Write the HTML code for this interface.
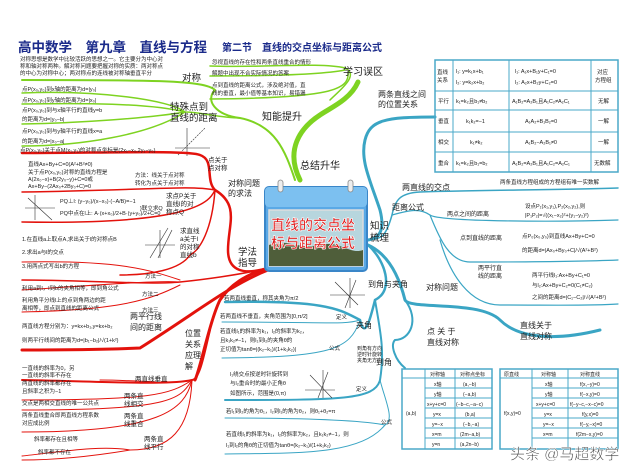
<!DOCTYPE html>
<html><head><meta charset="utf-8"><style>
html,body{margin:0;padding:0;background:#fff}
svg{display:block}
text{font-family:"Liberation Sans","Noto Sans CJK SC",sans-serif;fill:#222}
.s{font-size:5.5px}
.m{font-size:8px}
.n{font-size:9.5px;fill:#222}
.t{font-size:6px}
.r{fill:none;stroke:#e3120c;stroke-linecap:round}
.g{fill:none;stroke:#7ed321;stroke-linecap:round}
.b{fill:none;stroke:#3aa5c4;stroke-linecap:round}
.tb{fill:none;stroke:#4aa8c8;stroke-width:1}
</style></head><body>
<svg width="640" height="476" viewBox="0 0 640 476" xmlns="http://www.w3.org/2000/svg">
<rect width="640" height="476" fill="#fff"/>
<!-- title -->
<text x="18" y="52" style="font-size:13.5px;font-weight:bold;fill:#1a2a8a">高中数学　第九章　直线与方程</text>
<text x="222" y="51" style="font-size:10px;font-weight:bold;fill:#1a2a8a">第二节　直线的交点坐标与距离公式</text>

<!-- GREEN -->
<g class="g">
<path d="M300 180 C285 150 300 128 320 115 C330 108 350 100 358 82" stroke-width="5"/>
<path d="M295 180 C285 150 275 125 240 118 C215 115 205 100 215 90 C205 80 150 80 22 80" stroke-width="2"/>
<path d="M240 118 C220 118 200 112 185 112 C170 100 100 90 22 93" stroke-width="1.5"/>
<path d="M185 112 C150 103 80 103 22 104" stroke-width="1.5"/>
<path d="M185 112 C150 118 80 123 22 124" stroke-width="1.5"/>
<path d="M185 112 C150 135 80 146 22 146" stroke-width="1.5"/>
<path d="M330 100 C340 90 360 75 345 68 C320 62 260 68 210 66" stroke-width="1.5"/>
<path d="M345 70 C320 75 260 76 210 76" stroke-width="1.5"/>
<path d="M348 72 C350 90 330 98 210 99" stroke-width="1.5"/>
</g>
<text x="182" y="81" class="n">对称</text>
<text x="170" y="110" class="n">特殊点到</text>
<text x="170" y="121" class="n">直线的距离</text>
<text x="262" y="120" class="n" style="font-size:10px">知能提升</text>
<text x="343" y="75" class="n" style="font-size:10px">学习误区</text>
<text x="300" y="169" class="n" style="font-size:10px">总结升华</text>
<text x="20" y="61" class="s">对称思想是数学中比较活跃的思想之一。它主要分为中心对</text>
<text x="20" y="68" class="s">称和轴对称两种。解对称问题要把握对称的实质：两对称点</text>
<text x="20" y="75" class="s">的中心为对称中心；两对称点的连线被对称轴垂直平分</text>
<text x="22" y="91" class="s">点P(x₀,y₀)到x轴的距离为d=|y₀|</text>
<text x="22" y="102" class="s">点P(x₀,y₀)到y轴的距离为d=|x₀|</text>
<text x="22" y="112" class="s">点P(x₀,y₀)到与x轴平行的直线y=b</text>
<text x="22" y="121" class="s">的距离为d=|y₀−b|</text>
<text x="22" y="133" class="s">点P(x₀,y₀)到与y轴平行的直线x=a</text>
<text x="22" y="143" class="s">的距离为d=|x₀−a|</text>
<text x="212" y="64" class="s">忽视直线的存在性和两条直线重合的情形</text>
<text x="212" y="75" class="s">解题中出现不合实际情况的答案</text>
<text x="212" y="87" class="s">点到直线的距离公式，涉及绝对值，直</text>
<text x="212" y="95" class="s">线的垂直，最小值等基本知识，易错漏</text>
<g stroke="#333" stroke-width="0.6"><line x1="175" y1="148" x2="210" y2="148"/><line x1="187" y1="128" x2="187" y2="156"/><line x1="178" y1="155" x2="205" y2="128" stroke-dasharray="2 1"/></g>

<!-- RED -->
<g class="r">
<path d="M268 268 C245 275 230 285 220 300 C210 320 200 370 195 380" stroke-width="3"/>
<path d="M268 268 C245 275 228 272 228 250 C228 225 240 205 215 190 C205 180 215 160 200 155 C190 150 100 153 22 153" stroke-width="2.5"/>
<path d="M215 190 C190 185 150 190 22 192" stroke-width="1.5"/>
<path d="M215 190 C210 200 200 225 22 222" stroke-width="1.5"/>
<path d="M215 190 C212 230 200 250 190 255 C180 270 150 275 120 275" stroke-width="1.5"/>
<path d="M268 268 C240 275 200 280 180 282 C150 285 80 280 22 280" stroke-width="1.5"/>
<path d="M180 280 C150 270 120 260 22 262" stroke-width="1"/>
<path d="M180 282 C150 280 60 288 22 290" stroke-width="1"/>
<path d="M180 285 C150 300 120 310 22 312" stroke-width="1"/>
<path d="M268 270 C230 285 200 310 140 348 C100 350 50 350 22 350" stroke-width="3"/>
<path d="M210 330 C205 350 200 380 192 380 C170 385 120 382 22 380" stroke-width="2"/>
<path d="M192 380 C175 385 140 380 100 380" stroke-width="1"/>
<path d="M192 380 C170 395 150 400 22 400" stroke-width="1"/>
<path d="M192 380 C180 400 170 410 22 410" stroke-width="1"/>
<path d="M192 380 C185 410 160 432 22 432" stroke-width="1"/>
<path d="M192 380 C190 430 170 450 130 450 C100 445 60 452 22 456" stroke-width="1"/>
<path d="M130 450 C100 455 60 460 22 460" stroke-width="1"/>
</g>
<text x="20" y="152" class="s">点P(x₀,y₀)关于点M(x₁,y₁)的对称点坐标是(2x₁−x₀,2y₁−y₀)</text>
<text x="28" y="166" class="s">直线Ax+By+C=0(A²+B²≠0)</text>
<text x="28" y="174" class="s">关于点P(x₀,y₀)对称的直线方程是</text>
<text x="28" y="181" class="s">A(2x₀−x)+B(2y₀−y)+C=0或</text>
<text x="28" y="188" class="s">Ax+By−(2Ax₀+2By₀+C)=0</text>
<text x="135" y="177" class="s">方法：线关于点对称</text>
<text x="135" y="185" class="s">转化为点关于点对称</text>
<text x="208" y="162" class="s" style="font-size:6.5px">点关于</text>
<text x="208" y="170" class="s" style="font-size:6.5px">点对称</text>
<text x="228" y="186" class="m">对称问题</text>
<text x="228" y="196" class="m">的求法</text>
<text x="60" y="203" class="s">PQ⊥l:  (y−y₀)/(x−x₀)·(−A/B)=−1</text>
<text x="60" y="215" class="s">PQ中点在l上: A·(x+x₀)/2+B·(y+y₀)/2+C=0</text>
<text x="140" y="210" class="s">}联立求Q</text>
<text x="166" y="198" class="s" style="font-size:6.5px">求点P关于</text>
<text x="166" y="206" class="s" style="font-size:6.5px">直线l的对</text>
<text x="166" y="214" class="s" style="font-size:6.5px">称点Q</text>
<text x="180" y="233" class="s" style="font-size:6.5px">求直线</text>
<text x="180" y="241" class="s" style="font-size:6.5px">a关于l</text>
<text x="180" y="249" class="s" style="font-size:6.5px">的对称</text>
<text x="180" y="257" class="s" style="font-size:6.5px">直线b</text>
<g stroke="#333" stroke-width="0.6"><line x1="25" y1="208" x2="55" y2="208"/><line x1="35" y1="195" x2="35" y2="220"/><line x1="28" y1="198" x2="52" y2="220"/><line x1="145" y1="245" x2="175" y2="245"/><line x1="160" y1="230" x2="160" y2="258"/><line x1="150" y1="258" x2="168" y2="228"/><line x1="158" y1="258" x2="172" y2="230"/></g>
<text x="22" y="241" class="s">1.在直线a上取点A,求出关于l的对称点B</text>
<text x="22" y="254" class="s">2.求出a与l的交点</text>
<text x="22" y="268" class="s">3.用两点式写出b的方程</text>
<text x="145" y="278" class="s">方法一</text>
<text x="22" y="290" class="s">利用a到l，l到b的夹角相等，即到角公式</text>
<text x="142" y="296" class="s">方法二</text>
<text x="142" y="312" class="s">方法三</text>
<text x="22" y="302" class="s">利用角平分线l上的点到角两边的距</text>
<text x="22" y="310" class="s">离相等，即点到直线的距离公式</text>
<text x="130" y="319" class="m">两平行线</text>
<text x="130" y="330" class="m">间的距离</text>
<text x="22" y="328" class="s">两直线方程分别为：y=kx+b₁,y=kx+b₂</text>
<text x="22" y="342" class="s">则两平行线间的距离为d=|b₁−b₂|/√(1+k²)</text>
<text x="238" y="255" class="n">学法</text>
<text x="238" y="266" class="n">指导</text>
<text x="185" y="336" class="m">位置</text>
<text x="185" y="347" class="m">关系</text>
<text x="185" y="358" class="m">应理</text>
<text x="185" y="369" class="m">解</text>
<text x="22" y="370" class="s">一直线的斜率为0，另</text>
<text x="22" y="377" class="s">一直线的斜率不存在</text>
<text x="22" y="385" class="s">两直线的斜率都存在</text>
<text x="22" y="393" class="s">且斜率之积为−1</text>
<text x="135" y="381" class="s" style="font-size:6.5px">两直线垂直</text>
<text x="22" y="405" class="s">交点是两相交直线的唯一公共点</text>
<text x="124" y="398" class="s" style="font-size:6.5px">两条直</text>
<text x="124" y="406" class="s" style="font-size:6.5px">线相交</text>
<text x="22" y="417" class="s">两条直线重合即两直线方程系数</text>
<text x="22" y="425" class="s">对应成比例</text>
<text x="124" y="418" class="s" style="font-size:6.5px">两条直</text>
<text x="124" y="426" class="s" style="font-size:6.5px">线重合</text>
<text x="34" y="441" class="s">斜率都存在且相等</text>
<text x="38" y="454" class="s">斜率都不存在</text>
<text x="144" y="441" class="s" style="font-size:6.5px">两条直</text>
<text x="144" y="449" class="s" style="font-size:6.5px">线平行</text>

<!-- BLUE -->
<g class="b">
<path d="M368 240 C380 238 385 230 380 210 C370 180 360 160 365 140 C370 120 385 117 435 117" stroke-width="3"/>
<path d="M368 240 C380 238 385 240 392 215 C395 200 400 193 420 192 C470 190 560 190 618 188" stroke-width="1.5"/>
<path d="M392 215 C410 210 420 208 430 215 C440 222 560 222 618 220" stroke-width="1.2"/>
<path d="M430 215 C440 240 450 262 470 262 C520 262 570 262 618 260" stroke-width="1.2"/>
<path d="M440 240 C450 275 470 305 500 305 C550 305 590 306 618 304" stroke-width="1.2"/>
<path d="M368 245 C390 255 400 280 405 300 C410 310 480 300 500 320 C520 340 560 340 600 330" stroke-width="3"/>
<path d="M405 300 C420 320 410 340 395 340 C390 345 395 360 405 368" stroke-width="2"/>
<path d="M368 245 C385 260 395 290 375 300 C370 320 365 340 360 320 C340 310 330 300 225 302" stroke-width="2.5"/>
<path d="M360 320 C345 325 330 322 222 322" stroke-width="1"/>
<path d="M360 320 C350 350 330 357 222 358" stroke-width="1"/>
<path d="M375 300 C380 330 385 350 380 380 C375 400 340 400 225 400" stroke-width="2"/>
<path d="M380 380 C385 400 395 420 385 425 C360 420 300 418 225 418" stroke-width="1"/>
<path d="M385 425 C360 455 300 453 225 454" stroke-width="1"/>
</g>
<text x="378" y="97" class="m">两条直线之间</text>
<text x="378" y="107" class="m">的位置关系</text>
<text x="370" y="229" class="n">知识</text>
<text x="370" y="241" class="n">梳理</text>
<text x="402" y="190" class="m">两直线的交点</text>
<text x="392" y="210" class="m">距离公式</text>
<text x="500" y="184" class="s">两条直线方程组成的方程组有唯一实数解</text>
<text x="447" y="216" class="s" style="font-size:6px">两点之间的距离</text>
<text x="525" y="208" class="s">设点P₁(x₁,y₁),P₂(x₂,y₂),则</text>
<text x="525" y="217" class="s">|P₁P₂|=√((x₁−x₂)²+(y₁−y₂)²)</text>
<text x="460" y="240" class="s" style="font-size:6px">点到直线的距离</text>
<text x="522" y="238" class="s">点P₀(x₀,y₀)到直线Ax+By+C=0</text>
<text x="522" y="252" class="s">的距离d=|Ax₀+By₀+C|/√(A²+B²)</text>
<text x="478" y="270" class="s" style="font-size:6px">两平行直</text>
<text x="478" y="278" class="s" style="font-size:6px">线的距离</text>
<text x="532" y="277" class="s">两平行线l₁:Ax+By+C₁=0</text>
<text x="532" y="287" class="s">与l₂:Ax+By+C₂=0(C₁≠C₂)</text>
<text x="532" y="299" class="s">之间的距离d=|C₁−C₂|/√(A²+B²)</text>
<text x="368" y="287" class="m">到角与夹角</text>
<text x="426" y="290" class="m">对称问题</text>
<text x="427" y="334" class="m">点 关 于</text>
<text x="427" y="345" class="m">直线对称</text>
<text x="520" y="328" class="m">直线关于</text>
<text x="520" y="339" class="m">直线对称</text>
<text x="356" y="328" class="m">夹角</text>
<text x="376" y="365" class="m">到角</text>
<text x="336" y="319" class="s">定义</text>
<text x="329" y="350" class="s">公式</text>
<text x="356" y="391" class="s">定义</text>
<text x="381" y="424" class="s">公式</text>
<text x="357" y="350" class="s" style="font-size:5px">到角有方向</text>
<text x="357" y="356" class="s" style="font-size:5px">逆时针旋转</text>
<text x="357" y="362" class="s" style="font-size:5px">夹角无方向</text>
<text x="224" y="300" class="s">若两直线垂直，称其夹角为π/2</text>
<text x="220" y="318" class="s">若两直线不垂直，夹角范围为[0,π/2]</text>
<text x="220" y="333" class="s">若直线l₁的斜率为k₁，l₂的斜率为k₂，</text>
<text x="220" y="342" class="s">且k₁k₂≠−1，则l₁到l₂的夹角θ的</text>
<text x="220" y="351" class="s">正切值为tanθ=|(k₂−k₁)/(1+k₁k₂)|</text>
<text x="230" y="376" class="s">l₁绕交点按逆时针旋转到</text>
<text x="230" y="385" class="s">与l₂重合时的最小正角θ</text>
<text x="230" y="395" class="s">如图所示，范围是(0,π)</text>
<text x="226" y="413" class="s">若l₁到l₂的角为θ₁，l₂到l₁的角为θ₂，则θ₁+θ₂=π</text>
<text x="226" y="436" class="s">若直线l₁的斜率为k₁，l₂的斜率为k₂，且k₁k₂≠−1，则</text>
<text x="226" y="447" class="s">l₁到l₂的角θ的正切值为tanθ=(k₂−k₁)/(1+k₁k₂)</text>
<g stroke="#333" stroke-width="0.6"><line x1="330" y1="295" x2="365" y2="295"/><line x1="350" y1="278" x2="350" y2="308"/><line x1="335" y1="282" x2="358" y2="305"/><line x1="345" y1="308" x2="356" y2="280"/><line x1="305" y1="390" x2="335" y2="390"/><line x1="323" y1="370" x2="323" y2="398"/><line x1="310" y1="375" x2="332" y2="398"/><line x1="318" y1="398" x2="328" y2="372"/></g>

<!-- right table -->
<g class="tb" stroke-width="1.2">
<rect x="435" y="60" width="183" height="112" stroke-width="1.5"/>
<line x1="453" y1="60" x2="453" y2="172"/><line x1="509" y1="60" x2="509" y2="172"/><line x1="591" y1="60" x2="591" y2="172"/>
<line x1="435" y1="91" x2="618" y2="91"/><line x1="435" y1="110" x2="618" y2="110"/><line x1="435" y1="132" x2="618" y2="132"/><line x1="435" y1="152" x2="618" y2="152"/>
</g>
<g class="s">
<text x="437" y="74">直线</text><text x="437" y="82">关系</text>
<text x="456" y="73">l₁: y=k₁x+b₁</text><text x="456" y="84">l₂: y=k₂x+b₂</text>
<text x="515" y="73">l₁: A₁x+B₁y+C₁=0</text><text x="515" y="84">l₂: A₂x+B₂y+C₂=0</text>
<text x="597" y="74">对应</text><text x="595" y="82">方程组</text>
<text x="438" y="103">平行</text><text x="456" y="103">k₁=k₂且b₁≠b₂</text><text x="512" y="103">A₁B₂=A₂B₁且A₁C₂≠A₂C₁</text><text x="598" y="103">无解</text>
<text x="438" y="123">垂直</text><text x="466" y="123">k₁k₂=−1</text><text x="525" y="123">A₁A₂+B₁B₂=0</text><text x="598" y="123">一解</text>
<text x="438" y="144">相交</text><text x="470" y="144">k₁≠k₂</text><text x="525" y="144">A₁B₂−A₂B₁≠0</text><text x="598" y="144">一解</text>
<text x="438" y="165">重合</text><text x="456" y="165">k₁=k₂且b₁=b₂</text><text x="512" y="165">A₁B₂=A₂B₁且A₁C₂=A₂C₁</text><text x="594" y="165">无数解</text>
</g>

<!-- bottom tables -->
<g class="tb">
<rect x="402" y="369" width="90" height="80" stroke-width="1.5"/>
<line x1="425" y1="369" x2="425" y2="449"/><line x1="455" y1="369" x2="455" y2="449"/>
<line x1="402" y1="378" x2="492" y2="378"/>
<line x1="425" y1="388" x2="492" y2="388"/><line x1="425" y1="398" x2="492" y2="398"/><line x1="425" y1="408" x2="492" y2="408"/><line x1="425" y1="418" x2="492" y2="418"/><line x1="425" y1="428" x2="492" y2="428"/><line x1="425" y1="438" x2="492" y2="438"/>
<rect x="500" y="369" width="118" height="80" stroke-width="1.5"/>
<line x1="532" y1="369" x2="532" y2="449"/><line x1="568" y1="369" x2="568" y2="449"/>
<line x1="500" y1="378" x2="618" y2="378"/>
<line x1="532" y1="388" x2="618" y2="388"/><line x1="532" y1="398" x2="618" y2="398"/><line x1="532" y1="408" x2="618" y2="408"/><line x1="532" y1="418" x2="618" y2="418"/><line x1="532" y1="428" x2="618" y2="428"/><line x1="532" y1="438" x2="618" y2="438"/>
</g>
<g class="s" style="font-size:5px">
<text x="430" y="376">对称轴</text><text x="460" y="376">对称点坐标</text>
<text x="406" y="415">(a,b)</text>
<text x="434" y="386">x轴</text><text x="463" y="386">(a,−b)</text>
<text x="434" y="396">y轴</text><text x="463" y="396">(−a,b)</text>
<text x="427" y="406">x+y+c=0</text><text x="456" y="406">(−b−c,−a−c)</text>
<text x="433" y="416">y=x</text><text x="465" y="416">(b,a)</text>
<text x="432" y="426">y=−x</text><text x="463" y="426">(−b,−a)</text>
<text x="432" y="436">x=m</text><text x="460" y="436">(2m−a,b)</text>
<text x="432" y="446">y=n</text><text x="460" y="446">(a,2n−b)</text>
<text x="504" y="376">原直线</text><text x="541" y="376">对称轴</text><text x="580" y="376">对称直线</text>
<text x="504" y="415">f(x,y)=0</text>
<text x="545" y="386">x轴</text><text x="580" y="386">f(x,−y)=0</text>
<text x="545" y="396">y轴</text><text x="580" y="396">f(−x,y)=0</text>
<text x="536" y="406">x+y+c=0</text><text x="570" y="406">f(−y−c,−x−c)=0</text>
<text x="544" y="416">y=x</text><text x="582" y="416">f(y,x)=0</text>
<text x="543" y="426">y=−x</text><text x="580" y="426">f(−y,−x)=0</text>
<text x="543" y="436">x=m</text><text x="576" y="436">f(2m−x,y)=0</text>
</g>

<!-- center card -->
<rect x="265" y="187" width="102" height="84" rx="4" fill="#5aa9e6" stroke="#3a86c8" stroke-width="2"/>
<rect x="265" y="187" width="102" height="20" rx="4" fill="#7cc0f0"/>
<rect x="278" y="180" width="5" height="12" rx="2.5" fill="#eee" stroke="#888" stroke-width="0.8"/>
<rect x="348" y="180" width="5" height="12" rx="2.5" fill="#eee" stroke="#888" stroke-width="0.8"/>
<rect x="269" y="210" width="94" height="56" fill="#b7d6de" stroke="#ddd" stroke-width="1.5"/>
<path d="M269 245 C285 238 300 250 320 245 C340 240 350 255 363 250 L363 266 L269 266Z" fill="#4f5e3a"/>
<text x="271" y="230" style="font-size:14px;font-weight:bold;fill:#e01818;stroke:#fff;stroke-width:0.6">直线的交点坐</text>
<text x="271" y="248" style="font-size:14px;font-weight:bold;fill:#e01818;stroke:#fff;stroke-width:0.6">标与距离公式</text>

<text x="510" y="459" style="font-size:15px;fill:#333;stroke:#fff;stroke-width:0.5">头条 @马超数学</text>
</svg>
</body></html>
